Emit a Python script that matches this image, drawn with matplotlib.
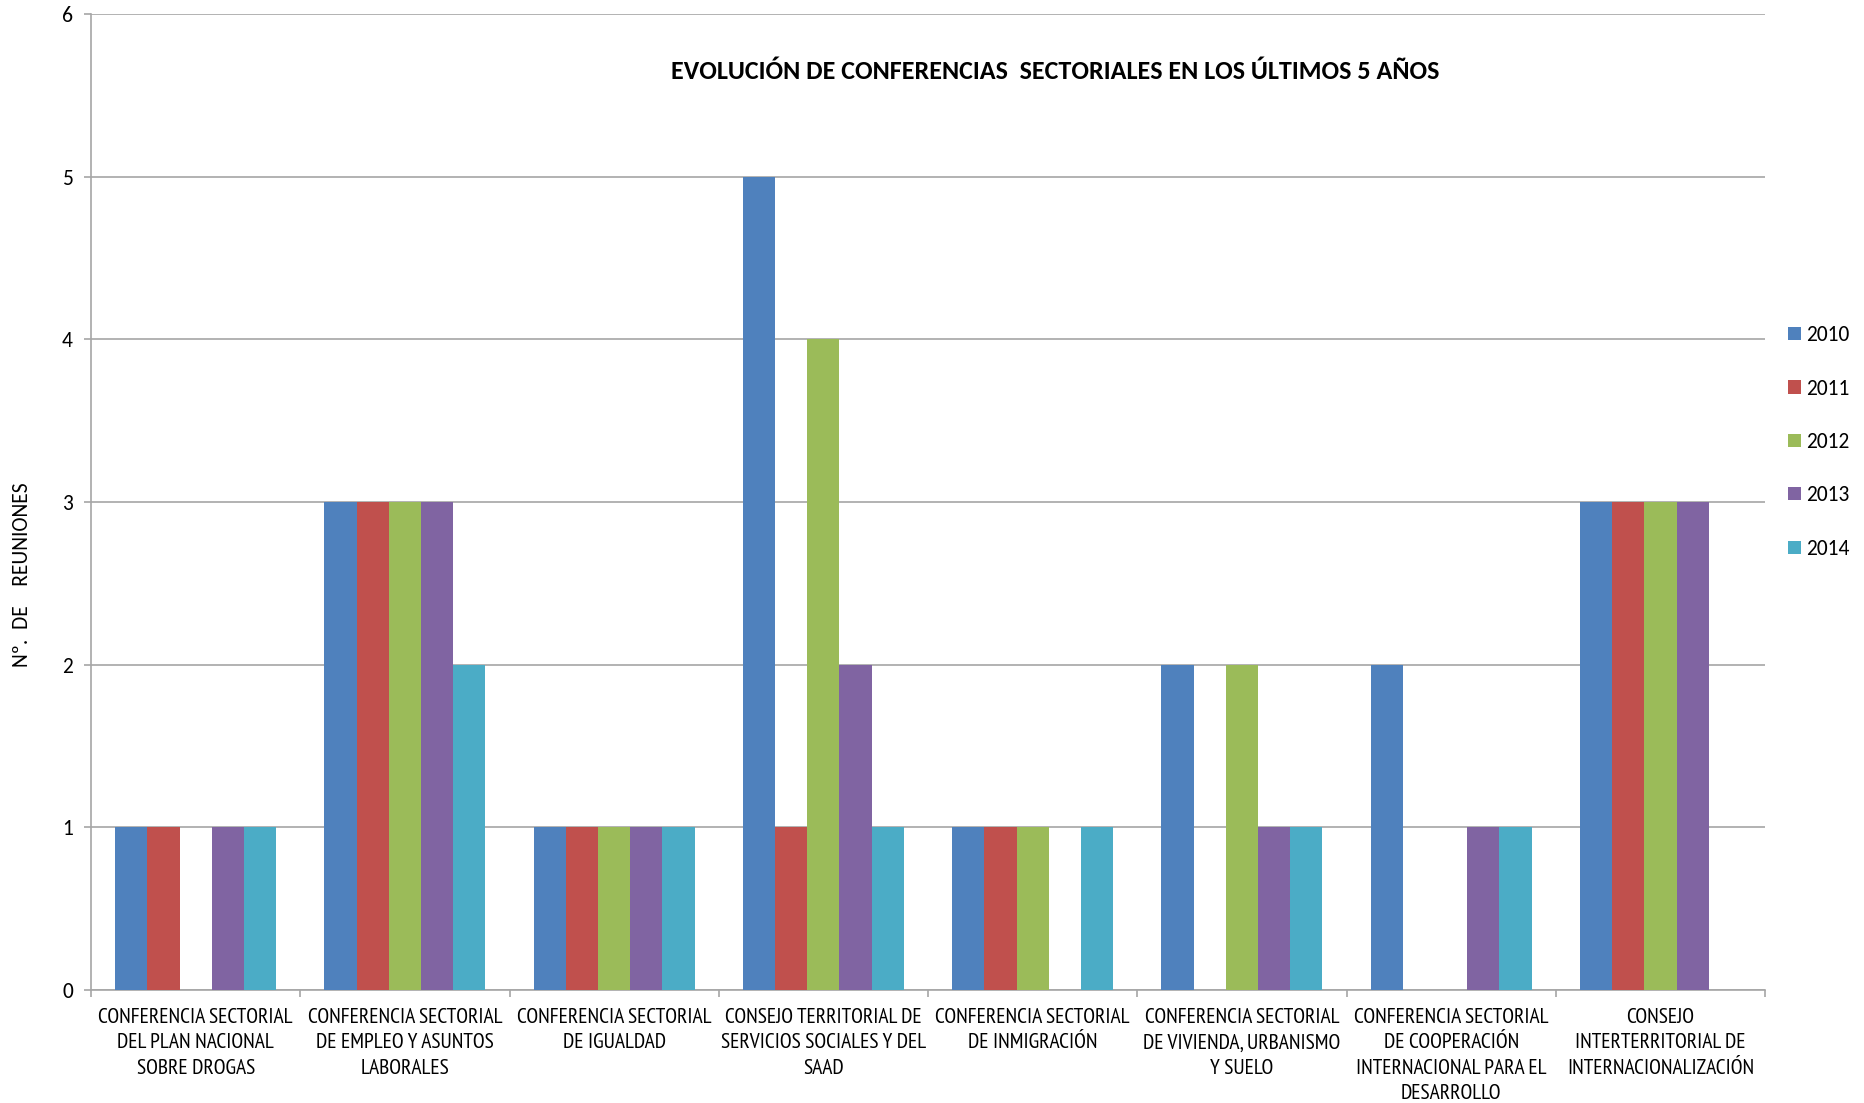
import numpy as np
import matplotlib.pyplot as plt

# Data
categories = [
    "CONFERENCIA SECTORIAL\nDEL PLAN NACIONAL\nSOBRE DROGAS",
    "CONFERENCIA SECTORIAL\nDE EMPLEO Y ASUNTOS\nLABORALES",
    "CONFERENCIA SECTORIAL\nDE IGUALDAD",
    "CONSEJO TERRITORIAL DE\nSERVICIOS SOCIALES Y DEL\nSAAD",
    "CONFERENCIA SECTORIAL\nDE INMIGRACIÓN",
    "CONFERENCIA SECTORIAL\nDE VIVIENDA, URBANISMO\nY SUELO",
    "CONFERENCIA SECTORIAL\nDE COOPERACIÓN\nINTERNACIONAL PARA EL\nDESARROLLO",
    "CONSEJO\nINTERTERRITORIAL DE\nINTERNACIONALIZACIÓN",
]
years = ["2010", "2011", "2012", "2013", "2014"]
v2010 = [1, 3, 1, 5, 1, 2, 2, 3]
v2011 = [1, 3, 1, 1, 1, 0, 0, 3]
v2012 = [0, 3, 1, 4, 1, 2, 0, 3]
v2013 = [1, 3, 1, 2, 0, 1, 1, 3]
v2014 = [1, 2, 1, 1, 1, 1, 1, 0]
series = [v2010, v2011, v2012, v2013, v2014]
colors = ["#4F81BD", "#C0504D", "#9BBB59", "#8064A2", "#4BACC6"]

MAIN = ["Carlito", "DejaVu Sans"]
NARROW = ["PT Sans Narrow", "Carlito", "DejaVu Sans"]
plt.rcParams["font.family"] = MAIN

fig = plt.figure(figsize=(18.65, 11.03), dpi=100)
ax = fig.add_axes([0.0488, 0.1024, 0.8976, 0.8849])

# Excel style: gap width 150% -> bar width = 1 / (5 + 1.5)
n = len(series)
bw = 1.0 / (n + 1.5)
x = np.arange(len(categories))
for i, (vals, yr, c) in enumerate(zip(series, years, colors)):
    offs = (i - (n - 1) / 2) * bw
    ax.bar(x + offs, vals, width=bw, color=c, label=yr, zorder=3)

ax.set_xlim(-0.5, len(categories) - 0.5)
ax.set_ylim(0, 6)
ax.set_yticks(range(7))
ax.grid(axis="y", color="#A6A6A6", linewidth=1.2, zorder=0)

for s in ["top", "right"]:
    ax.spines[s].set_visible(False)
for s in ["left", "bottom"]:
    ax.spines[s].set_color("#A6A6A6")
    ax.spines[s].set_linewidth(1.2)

# category labels centred, ticks at category borders
ax.set_xticks(x)
ax.set_xticklabels(categories, fontsize=15.5, linespacing=1.42, va="top",
                   family=NARROW)
ax.tick_params(axis="x", length=0, pad=13)
ax.set_xticks(np.arange(len(categories) + 1) - 0.5, minor=True)
ax.tick_params(axis="x", which="minor", length=5, color="#A6A6A6", width=1.2)
ax.tick_params(axis="y", length=5, color="#A6A6A6", width=1.2,
               labelsize=15.5, pad=8)

# axis title sits a bit below the middle of the axis in the reference
fig.text(0.0118, 0.479, "Nº.  DE    REUNIONES", rotation=90,
         ha="center", va="center", fontsize=15.5)

fig.text(0.566, 0.9356, "EVOLUCIÓN DE CONFERENCIAS  SECTORIALES EN LOS ÚLTIMOS 5 AÑOS",
         ha="center", va="center", fontsize=18.8, fontweight="bold")

ax.legend(loc="center left", bbox_to_anchor=(1.014, 0.5615), frameon=False,
          fontsize=15.5, handlelength=0.56, handleheight=0.56, handletextpad=0.25,
          labelspacing=1.55, borderaxespad=0.0, borderpad=0.0)

fig.savefig("out.png", dpi=100)
